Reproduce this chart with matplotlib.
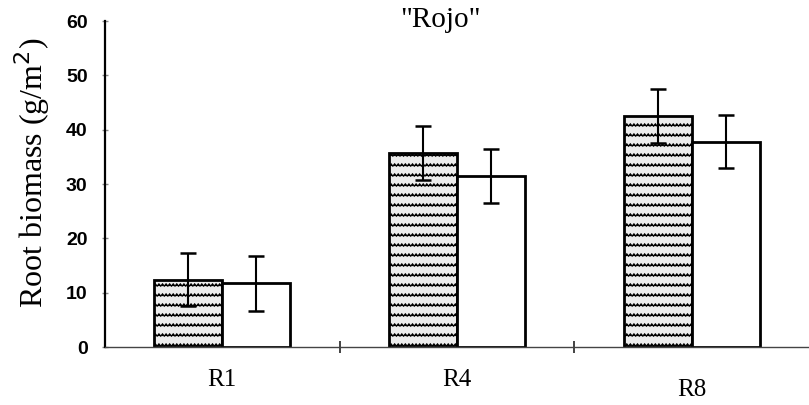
import numpy as np
import matplotlib
matplotlib.use("Agg")
import matplotlib.pyplot as plt
import matplotlib.hatch as mhatch
import matplotlib.transforms as mtransforms
from matplotlib.path import Path

# ---- data ----
categories = ["R1", "R4", "R8"]
series_a = [12.4, 35.7, 42.5]     # hatched bars
series_a_err = [4.9, 5.0, 4.9]
series_b = [11.7, 31.5, 37.8]     # open bars
series_b_err = [5.0, 5.0, 4.9]
yticks = [0, 10, 20, 30, 40, 50, 60]
title = '"Rojo"'
ylabel = r'Root biomass (g/m$^2$)'


# ---- custom wavy hatch (replaces the '-' horizontal hatch) ----
class WavyHatch(mhatch.HatchPatternBase):
    def __init__(self, hatch, density):
        self.num_rows = hatch.count('-') * 10
        self.num_pts = 57
        self.num_vertices = self.num_rows * self.num_pts

    def set_vertices_and_codes(self, vertices, codes):
        rows, step = np.linspace(0.0, 1.0, self.num_rows, False, retstep=True)
        rows += step / 2.0
        xs = np.linspace(0.0, 1.0, self.num_pts)
        amp = np.where(np.arange(self.num_pts) % 2 == 0, -0.011, 0.011)
        for i, r in enumerate(rows):
            sl = slice(i * self.num_pts, (i + 1) * self.num_pts)
            vertices[sl, 0] = xs
            vertices[sl, 1] = r + amp
            codes[sl] = Path.LINETO
            codes[i * self.num_pts] = Path.MOVETO


mhatch._hatch_types = [WavyHatch if t is mhatch.HorizontalHatch else t
                       for t in mhatch._hatch_types]

plt.rcParams['hatch.linewidth'] = 0.9
plt.rcParams['hatch.color'] = 'black'

fig = plt.figure(figsize=(8.09, 4.05), dpi=100)
ax = fig.add_axes([105 / 809, 1 - 347 / 405, 1 - 105 / 809, (347 - 21) / 405])

x = np.arange(len(categories))
w = 0.29
ax.bar(x - w / 2, series_a, width=w, facecolor='#ececec', edgecolor='black',
       linewidth=2.0, hatch='-', zorder=2)
ax.bar(x + w / 2, series_b, width=w, facecolor='white', edgecolor='black',
       linewidth=2.0, zorder=2)
ax.errorbar(x - w / 2, series_a, yerr=series_a_err, fmt='none', ecolor='black',
            elinewidth=1.5, capsize=5.5, capthick=1.8, zorder=3)
ax.errorbar(x + w / 2, series_b, yerr=series_b_err, fmt='none', ecolor='black',
            elinewidth=1.5, capsize=5.5, capthick=1.8, zorder=3)

ax.set_xlim(-0.5, 2.5)
ax.set_ylim(0, 60)
ax.set_yticks(yticks)
ax.set_yticklabels([str(v) for v in yticks], fontfamily='Liberation Sans',
                   fontweight='bold', fontsize=14)
ax.tick_params(axis='y', direction='inout', length=4, width=1, color='#888888', pad=10.5)

ax.set_xticks(x)
ax.set_xticklabels(categories, fontfamily='Liberation Serif', fontsize=18)
ax.set_xticks([0.5, 1.5], minor=True)
ax.tick_params(axis='x', which='major', length=0, pad=16)
ax.tick_params(axis='x', which='minor', direction='inout', length=9, width=1.2, color='#222222')

# the last category label sits slightly lower in the original
lbl = ax.get_xticklabels()[-1]
lbl.set_transform(lbl.get_transform() +
                  mtransforms.ScaledTranslation(0, -0.10, fig.dpi_scale_trans))

for s in ['top', 'right']:
    ax.spines[s].set_visible(False)
ax.spines['left'].set_linewidth(1.6)
ax.spines['left'].set_color('black')
ax.spines['bottom'].set_linewidth(1.0)
ax.spines['bottom'].set_color('#444444')

fig.text(32 / 809, 1 - 173 / 405, ylabel, rotation=90, ha='center', va='center',
         fontfamily='Liberation Serif', fontsize=23)
fig.text(440 / 809, 1 - 27 / 405, title, ha='center', va='baseline',
         fontfamily='Liberation Serif', fontsize=21)

fig.savefig('out.png', dpi=100)
